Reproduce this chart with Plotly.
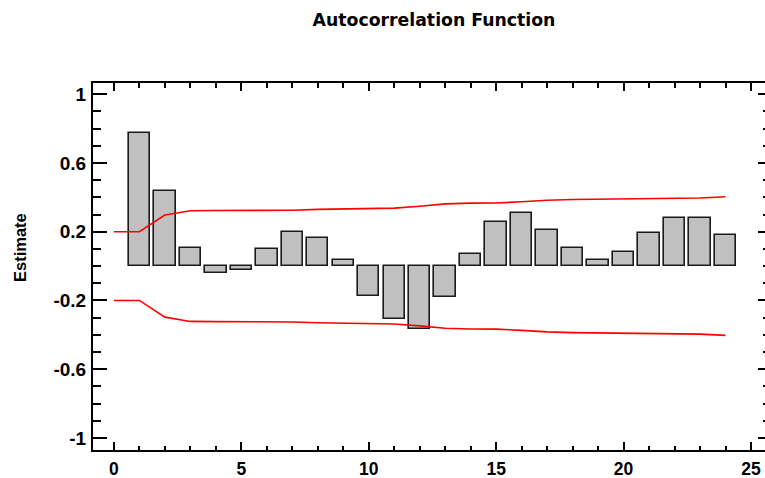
import plotly.graph_objects as go

lags = list(range(1, 25))
acf = [0.777, 0.438, 0.107, -0.038, -0.020, 0.099, 0.200, 0.165, 0.035, -0.173,
       -0.310, -0.366, -0.182, 0.072, 0.254, 0.308, 0.209, 0.107, 0.035, 0.081,
       0.190, 0.281, 0.281, 0.182]
limit_lags = list(range(0, 25))
upper = [0.200, 0.200, 0.297, 0.322, 0.323, 0.323, 0.324, 0.325, 0.330, 0.332,
         0.333, 0.337, 0.348, 0.362, 0.366, 0.367, 0.374, 0.383, 0.387, 0.388,
         0.389, 0.390, 0.394, 0.396, 0.403]
lower = [-v for v in upper]
x_ticks = [0, 5, 10, 15, 20, 25]
y_ticks = [-1, -0.6, -0.2, 0.2, 0.6, 1]
y_labels = ["-1", "-0.6", "-0.2", "0.2", "0.6", "1"]

FONT = "Liberation Sans, Arial, sans-serif"
TFONT = "DejaVu Sans, Liberation Sans, sans-serif"
Y_RANGE = [-1.07, 1.065]

fig = go.Figure()
fig.add_trace(go.Bar(x=lags, y=acf, width=0.84,
                     marker=dict(color="#C0C0C0", line=dict(color="#1a1a1a", width=1.6)),
                     showlegend=False))
fig.add_trace(go.Scatter(x=limit_lags, y=upper, mode="lines",
                         line=dict(color="#ff0000", width=1.6), showlegend=False))
fig.add_trace(go.Scatter(x=limit_lags, y=lower, mode="lines",
                         line=dict(color="#ff0000", width=1.6), showlegend=False))

fig.update_layout(
    width=765, height=478,
    margin=dict(l=93, r=0, t=83, b=28),
    paper_bgcolor="white", plot_bgcolor="white",
    font=dict(family=FONT, color="black"),
    title=dict(text="Autocorrelation Function", x=434 / 765, xanchor="center",
               y=1 - 20 / 478, yanchor="middle",
               font=dict(family=TFONT, size=17.3, weight="bold", color="black")),
    xaxis=dict(range=[-0.82, 25.55], tickvals=x_ticks, ticks="inside", ticklen=8,
               tickwidth=1.5, tickcolor="black", showline=True, linecolor="black",
               linewidth=2, mirror="ticks", showgrid=False, zeroline=False,
               automargin=False,
               tickfont=dict(family=FONT, size=17.5, weight="bold", color="black"),
               ticklabelstandoff=2,
               minor=dict(dtick=1, tick0=0, ticks="inside", ticklen=4.5,
                          tickwidth=1.5, tickcolor="black", showgrid=False)),
    yaxis=dict(range=Y_RANGE, tickvals=y_ticks, ticktext=y_labels,
               ticks="inside", ticklen=14, tickwidth=1.5, tickcolor="black",
               showline=True, linecolor="black", linewidth=2, mirror=False,
               showgrid=False, zeroline=False, automargin=False,
               tickfont=dict(family=FONT, size=19, weight="bold", color="black"),
               ticklabelstandoff=1,
               minor=dict(dtick=0.1, tick0=0, ticks="inside", ticklen=7.5,
                          tickwidth=1.5, tickcolor="black", showgrid=False)),
    yaxis2=dict(range=Y_RANGE, overlaying="y", side="right", anchor="x",
                tickvals=y_ticks, showticklabels=False,
                ticks="inside", ticklen=7, tickwidth=1.5, tickcolor="black",
                showline=False, showgrid=False, zeroline=False, automargin=False,
                minor=dict(dtick=0.1, tick0=0, ticks="inside", ticklen=2,
                           tickwidth=1.5, tickcolor="black", showgrid=False)),
    bargap=0,
    annotations=[dict(text="Estimate", xref="paper", yref="paper",
                      x=(20 - 93) / 672, y=(450 - 248) / 367,
                      xanchor="center", yanchor="middle", textangle=-90,
                      showarrow=False,
                      font=dict(family=FONT, size=16.5, weight="bold", color="black"))],
)
fig.add_trace(go.Scatter(x=[None], y=[None], yaxis="y2", showlegend=False, hoverinfo="skip"))

fig.write_html("out.html")
